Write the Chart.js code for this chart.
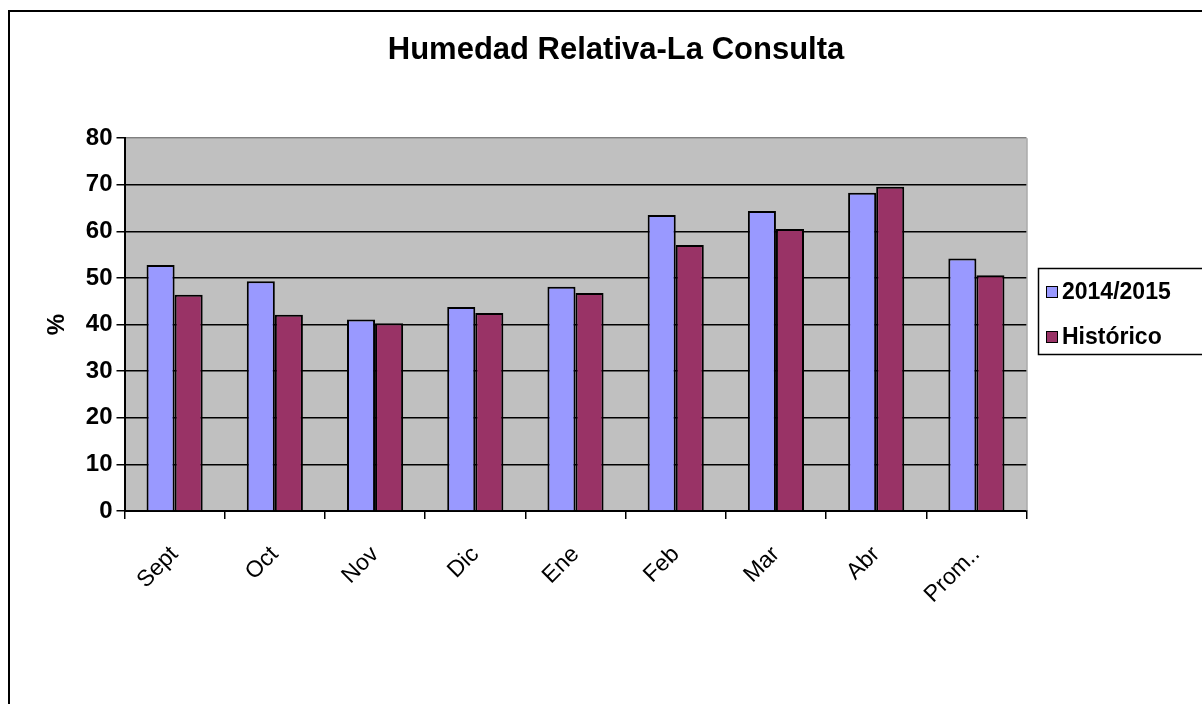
<!DOCTYPE html>
<html>
<head>
<meta charset="utf-8">
<script src="https://cdn.jsdelivr.net/npm/chart.js@4/dist/chart.umd.min.js"></script>
<style>
html,body{margin:0;padding:0;background:#fff;}
#wrap{width:1202px;height:704px;position:relative;}
</style>
</head>
<body>
<div id="wrap"><canvas id="c" width="1202" height="704"></canvas></div>
<script>
const categories = ["Sept", "Oct", "Nov", "Dic", "Ene", "Feb", "Mar", "Abr", "Prom.."];
const serie2014 = [52.8, 49.3, 41.1, 43.8, 48.1, 63.5, 64.4, 68.3, 54.2];
const serieHistorico = [46.4, 42.1, 40.3, 42.5, 46.8, 57.1, 60.5, 69.6, 50.6];
const seriesNames = ["2014/2015", "Histórico"];
const yTicks = [0, 10, 20, 30, 40, 50, 60, 70, 80];
const chartTitle = "Humedad Relativa-La Consulta";
const yTitle = "%";

const FONT = "'Liberation Sans', Arial, sans-serif";

const framePlugin = {
  id: 'frame',
  beforeDraw(chart) {
    const ctx = chart.ctx, a = chart.chartArea;
    ctx.save();
    ctx.fillStyle = '#fff';
    ctx.fillRect(0, 0, chart.width, chart.height);
    ctx.fillStyle = '#C0C0C0';
    ctx.fillRect(a.left, a.top, a.right - a.left, a.bottom - a.top);
    ctx.strokeStyle = '#000';
    ctx.lineWidth = 2;
    ctx.beginPath();
    ctx.moveTo(9, 704);
    ctx.lineTo(9, 11);
    ctx.lineTo(1202, 11);
    ctx.stroke();
    ctx.restore();
  },
  afterDatasetsDraw(chart) {
    const ctx = chart.ctx, a = chart.chartArea;
    ctx.save();
    ctx.strokeStyle = '#808080';
    ctx.lineWidth = 1;
    ctx.beginPath();
    ctx.moveTo(a.right + 0.5, a.bottom);
    ctx.lineTo(a.right + 0.5, a.top);
    ctx.stroke();
    ctx.restore();
  },
  afterDraw(chart) {
    const ctx = chart.ctx;
    const ds = chart.data.datasets;
    ctx.save();
    ctx.strokeStyle = '#000';
    ctx.lineWidth = 1.5;
    ctx.strokeRect(1038.5, 268.5, 200, 86);
    ctx.font = "bold 23px " + FONT;
    ctx.textBaseline = 'middle';
    const ys = [292, 337];
    ds.forEach((d, i) => {
      ctx.fillStyle = d.backgroundColor;
      ctx.fillRect(1046, ys[i] - 6, 12, 12);
      ctx.strokeStyle = '#000';
      ctx.lineWidth = 1;
      ctx.strokeRect(1046.5, ys[i] - 5.5, 11, 11);
      ctx.fillStyle = '#000';
      ctx.fillText(d.label, 1062, ys[i] + 1);
    });
    ctx.restore();
  }
};

new Chart(document.getElementById('c'), {
  type: 'bar',
  data: {
    labels: categories,
    datasets: [
      { label: seriesNames[0], data: serie2014, backgroundColor: '#9999FF', borderColor: '#000', borderWidth: 2, yAxisID: 'y' },
      { label: seriesNames[1], data: serieHistorico, backgroundColor: '#993366', borderColor: '#000', borderWidth: 2, yAxisID: 'y' }
    ]
  },
  options: {
    responsive: false,
    animation: false,
    devicePixelRatio: 1,
    layout: { padding: { left: 30, top: 10, right: 0, bottom: 0 } },
    datasets: { bar: { categoryPercentage: 0.56, barPercentage: 1.0 } },
    plugins: {
      legend: { display: false },
      tooltip: { enabled: false },
      title: {
        display: true,
        text: chartTitle,
        color: '#000',
        font: { family: FONT, size: 31, weight: 'bold' },
        padding: { top: 22, bottom: 69 }
      }
    },
    scales: {
      x: {
        grid: { display: true, drawOnChartArea: false, drawTicks: true, tickLength: 8, color: '#000', tickColor: '#000', lineWidth: 1.5, offset: true },
        border: { display: true, color: '#000', width: 2 },
        ticks: { color: '#000', font: { family: FONT, size: 23 }, minRotation: 45, maxRotation: 45, padding: 22 },
        afterFit(s) { s.height = 193; }
      },
      y: {
        min: 0, max: 80,
        afterBuildTicks(s) { s.ticks = yTicks.map(v => ({ value: v })); },
        grid: {
          color: (c) => (c.tick && c.tick.value === 80) ? '#808080' : '#000',
          tickColor: '#000',
          tickLength: 8,
          lineWidth: 1.5
        },
        border: { display: true, color: '#000', width: 2 },
        ticks: { color: '#000', font: { family: FONT, size: 24, weight: 'bold' }, padding: 4 },
        title: { display: true, text: yTitle, color: '#000', font: { family: FONT, size: 24, weight: 'bold' }, padding: { top: 13, bottom: 0 } },
        afterFit(s) { s.width = 94.5; }
      },
      yR: {
        type: 'linear',
        position: 'right',
        display: true,
        grid: { display: false, drawTicks: false },
        border: { display: false },
        ticks: { display: false },
        afterFit(s) { s.width = 175.5; }
      }
    }
  },
  plugins: [framePlugin]
});
</script>
</body>
</html>
